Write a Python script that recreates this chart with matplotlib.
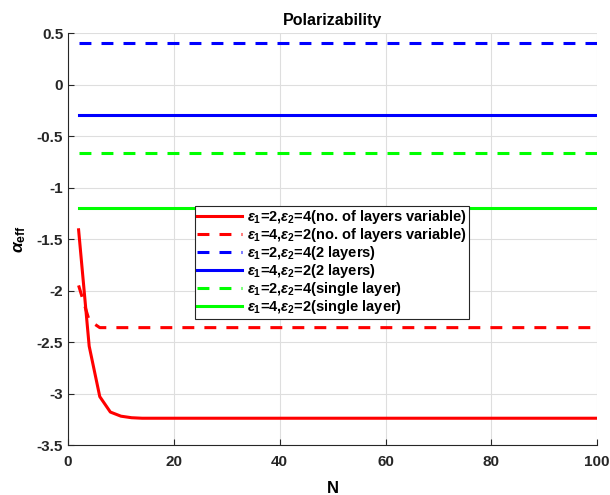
import matplotlib
matplotlib.use("Agg")
import matplotlib.pyplot as plt

plt.rcParams['font.family'] = ['Liberation Sans', 'DejaVu Sans']
plt.rcParams['font.weight'] = 'bold'
plt.rcParams['mathtext.fontset'] = 'custom'
plt.rcParams['mathtext.rm'] = 'Liberation Sans:bold'
plt.rcParams['mathtext.it'] = 'Liberation Sans:bold:italic'
plt.rcParams['mathtext.bf'] = 'Liberation Sans:bold'

# Data
n_var_a = [2, 4, 6, 8, 10, 12, 14, 16, 20, 100]
alpha_var_a = [-1.41, -2.54, -3.03, -3.18, -3.22, -3.235, -3.24, -3.24, -3.24, -3.24]
n_var_b = [2, 4, 6, 100]
alpha_var_b = [-1.95, -2.29, -2.36, -2.36]
n_const = [2, 100]
alpha_2layer_a = [0.40, 0.40]
alpha_2layer_b = [-0.29, -0.29]
alpha_single_a = [-0.66, -0.66]
alpha_single_b = [-1.20, -1.20]

labels = [
    r'$\epsilon_1$=2,$\epsilon_2$=4(no. of layers variable)',
    r'$\epsilon_1$=4,$\epsilon_2$=2(no. of layers variable)',
    r'$\epsilon_1$=2,$\epsilon_2$=4(2 layers)',
    r'$\epsilon_1$=4,$\epsilon_2$=2(2 layers)',
    r'$\epsilon_1$=2,$\epsilon_2$=4(single layer)',
    r'$\epsilon_1$=4,$\epsilon_2$=2(single layer)',
]

fig = plt.figure(figsize=(6.1, 4.95), dpi=100)
ax = fig.add_axes([0.1115, 0.101, 0.8675, 0.832])

lw = 2.2
dash = (0, (3.9, 3.3))
ax.plot(n_var_a, alpha_var_a, color=(1, 0, 0), lw=lw, label=labels[0])
ax.plot(n_var_b, alpha_var_b, color=(1, 0, 0), lw=lw, ls=dash, label=labels[1])
ax.plot(n_const, alpha_2layer_a, color=(0, 0, 1), lw=lw, ls=dash, label=labels[2])
ax.plot(n_const, alpha_2layer_b, color=(0, 0, 1), lw=lw, label=labels[3])
ax.plot(n_const, alpha_single_a, color=(0, 1, 0), lw=lw, ls=dash, label=labels[4])
ax.plot(n_const, alpha_single_b, color=(0, 1, 0), lw=lw, label=labels[5])

ax.set_xlim(0, 100)
ax.set_ylim(-3.5, 0.5)
ax.set_xticks([0, 20, 40, 60, 80, 100])
ax.set_yticks([-3.5, -3, -2.5, -2, -1.5, -1, -0.5, 0, 0.5])
ax.set_yticklabels(['-3.5', '-3', '-2.5', '-2', '-1.5', '-1', '-0.5', '0', '0.5'])
ax.grid(True, color='#dedede', lw=0.8)
ax.set_axisbelow(True)
for s in ['top', 'right']:
    ax.spines[s].set_visible(False)
for s in ['left', 'bottom']:
    ax.spines[s].set_color('#262626')
    ax.spines[s].set_linewidth(0.8)
ax.tick_params(direction='in', length=4, width=0.8, labelsize=11, colors='#262626',
               labelcolor='#262626')
ax.tick_params(axis='x', pad=7.5)
for t in ax.get_xticklabels() + ax.get_yticklabels():
    t.set_fontweight('bold')

ax.set_title('Polarizability', fontsize=11.5, fontweight='bold', pad=6)
ax.set_xlabel('N', fontsize=12, fontweight='bold', labelpad=8)
ax.set_ylabel(r'$\alpha_{\mathrm{eff}}$', fontsize=12.5, labelpad=6)

leg = ax.legend(loc='upper left', bbox_to_anchor=(0.240, 0.580), fontsize=10.5,
                handlelength=3.1, handletextpad=0.3, borderpad=0.15,
                labelspacing=0.0, frameon=True, fancybox=False, framealpha=1,
                edgecolor='#262626', borderaxespad=0)
leg.get_frame().set_linewidth(0.8)
for t in leg.get_texts():
    t.set_fontweight('bold')

fig.savefig('out.png', dpi=100)
